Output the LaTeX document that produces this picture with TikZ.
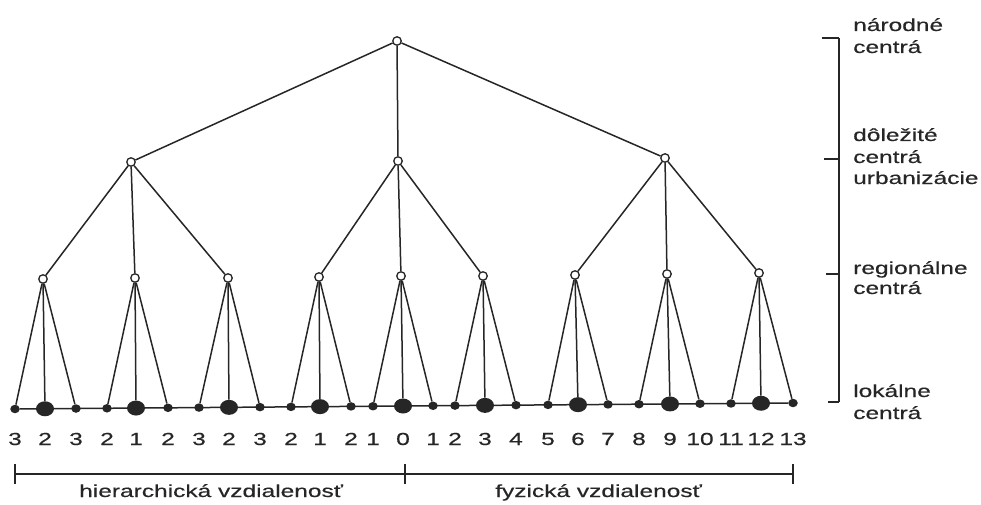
\documentclass[tikz,border=0pt]{standalone}
\usepackage{fontspec}
\setmainfont{Liberation Sans}
\newfontfamily\lblfont{Liberation Sans}[FakeBold=0.35]
\usetikzlibrary{shapes.geometric}
\newcommand{\wide}[1]{\scalebox{1.40}[1]{#1}}
\begin{document}
\begin{tikzpicture}[x=1pt,y=-1pt,
  lbl/.style={inner sep=0pt, anchor=base west, font=\lblfont\fontsize{17.5}{20}\selectfont, text=black!85},
  num/.style={inner sep=0pt, anchor=base, font=\lblfont\fontsize{17.5}{20}\selectfont, text=black!85},
  opennode/.style={circle, draw=black!85, fill=white, inner sep=0pt, minimum size=8.5pt, line width=1.3pt},
  smalldot/.style={ellipse, fill=black!85, inner sep=0pt, minimum width=9.5pt, minimum height=8.5pt},
  bigdot/.style={ellipse, fill=black!85, inner sep=0pt, minimum width=18pt, minimum height=15pt},
  ln/.style={line width=1.5pt, draw=black!85}]
\useasboundingbox (0,0) rectangle (981,505);

% upper levels
\node[opennode] (n0) at (397,41) {};
\node[opennode] (u1) at (131,162) {};
\node[opennode] (u2) at (398,161) {};
\node[opennode] (u3) at (665,158) {};
\foreach \x/\y [count=\j] in {43/279,135/278,228/278,319/277,401/276,483/276,575/275,667/274,759/273}
  \node[opennode] (r\j) at (\x,\y) {};

% bottom dots
\foreach \x [count=\i] in {15,45,76,107,136,168,199,229,260,291,320,351,373,403,433,455,485,516,548,578,608,639,670,700,731,761,793}{
  \pgfmathsetmacro\yy{409-6*(\x-15)/778}
  \pgfmathtruncatemacro\m{mod(\i,3)}
  \ifnum\m=2
    \node[bigdot] (b\i) at (\x,\yy) {};
  \else
    \node[smalldot] (b\i) at (\x,\yy) {};
  \fi
}
\draw[ln] (b1) -- (b27);

% edges
\foreach \k in {1,2,3} \draw[ln] (n0) -- (u\k);
\foreach \k in {1,2,3} \draw[ln] (u1) -- (r\k);
\foreach \k in {4,5,6} \draw[ln] (u2) -- (r\k);
\foreach \k in {7,8,9} \draw[ln] (u3) -- (r\k);
\foreach \j in {1,...,9}{
  \pgfmathtruncatemacro\a{3*\j-2}
  \pgfmathtruncatemacro\b{3*\j-1}
  \pgfmathtruncatemacro\c{3*\j}
  \draw[ln] (r\j) -- (b\a);
  \draw[ln] (r\j) -- (b\b);
  \draw[ln] (r\j) -- (b\c);
}

% numbers
\foreach \x/\t [count=\i] in {15/3,45/2,76/3,107/2,136/1,168/2,199/3,229/2,260/3,291/2,320/1,351/2,373/1,403/0,433/1,455/2,485/3,516/4,548/5,578/6,608/7,639/8,670/9,700/10,731/11,761/12,793/13}
  \node[num] (d\i) at (\x,445) {\wide{\t}};

% bottom bracket
\coordinate (hl) at (15,474);
\coordinate (hm) at (405,474);
\coordinate (hr) at (793,474);
\draw[ln] (hl) -- (hr);
\draw[ln] ([yshift=-10pt]hl) -- ([yshift=10pt]hl);
\draw[ln] ([yshift=-10pt]hm) -- ([yshift=10pt]hm);
\draw[ln] ([yshift=-10pt]hr) -- ([yshift=10pt]hr);
\node[lbl] (hd) at (79,497) {\wide{hierarchická vzdialenosť}};
\node[lbl] (fd) at (495,497) {\wide{fyzická vzdialenosť}};

% right bracket
\coordinate (v1) at (839,38);
\coordinate (v2) at (839,159);
\coordinate (v3) at (839,274);
\coordinate (v4) at (839,402);
\draw[ln] (v1) -- (v4);
\draw[ln] (v1) -- ++(-17,0);
\draw[ln] (v2) -- ++(-15,0);
\draw[ln] (v3) -- ++(-13,0);
\draw[ln] (v4) -- ++(-11,0);

\node[lbl] (l1) at (853,31) {\wide{národné}};
\node[lbl] (l2) at (853,53) {\wide{centrá}};
\node[lbl] (l3) at (853,141) {\wide{dôležité}};
\node[lbl] (l4) at (853,163) {\wide{centrá}};
\node[lbl] (l5) at (853,184) {\wide{urbanizácie}};
\node[lbl] (l6) at (853,274) {\wide{regionálne}};
\node[lbl] (l7) at (853,294) {\wide{centrá}};
\node[lbl] (l8) at (853,397) {\wide{lokálne}};
\node[lbl] (l9) at (853,419) {\wide{centrá}};
\end{tikzpicture}
\end{document}
